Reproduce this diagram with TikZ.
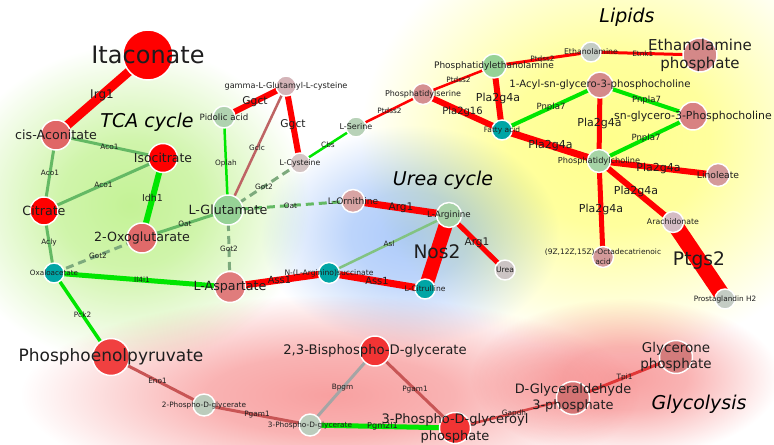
\documentclass[tikz,border=0pt]{standalone}
\usepackage{fontspec}
\setmainfont{DejaVu Sans}
\pgfdeclarelayer{glowlayer}
\pgfdeclarelayer{edgelayer}
\pgfsetlayers{glowlayer,edgelayer,main}
% node colours
\definecolor{nred}{RGB}{255,0,0}
\definecolor{ncis}{RGB}{224,102,102}
\definecolor{noxo}{RGB}{224,106,106}
\definecolor{nasp}{RGB}{224,124,124}
\definecolor{nteal}{RGB}{0,165,165}
\definecolor{nglu}{RGB}{150,210,150}
\definecolor{npid}{RGB}{176,210,176}
\definecolor{nggc}{RGB}{212,180,184}
\definecolor{ncys}{RGB}{212,196,196}
\definecolor{nser}{RGB}{184,210,184}
\definecolor{nps}{RGB}{212,144,144}
\definecolor{netn}{RGB}{196,204,196}
\definecolor{netnp}{RGB}{212,136,136}
\definecolor{nacyl}{RGB}{212,138,138}
\definecolor{ngpc}{RGB}{216,130,130}
\definecolor{npc}{RGB}{166,212,166}
\definecolor{nlin}{RGB}{212,154,154}
\definecolor{narach}{RGB}{212,188,196}
\definecolor{norn}{RGB}{216,164,164}
\definecolor{narg}{RGB}{168,210,168}
\definecolor{nurea}{RGB}{204,196,196}
\definecolor{npep}{RGB}{240,64,64}
\definecolor{npg}{RGB}{188,204,188}
\definecolor{nbpg}{RGB}{242,52,52}
\definecolor{ngap}{RGB}{212,116,116}
\definecolor{ndhap}{RGB}{212,124,124}
% edge colours
\definecolor{ered}{RGB}{255,0,0}
\definecolor{egreen}{RGB}{0,230,0}
\definecolor{emid}{RGB}{100,185,100}
\definecolor{edash}{RGB}{125,170,125}
\definecolor{egcl}{RGB}{190,100,100}
\definecolor{easl}{RGB}{130,195,130}
\definecolor{eglyc}{RGB}{200,85,85}
\definecolor{egrey}{RGB}{165,165,165}
\definecolor{egap}{RGB}{215,70,70}
\definecolor{etpi}{RGB}{225,55,55}
% glow colours
\definecolor{gtca}{RGB}{196,242,150}
\definecolor{gurea}{RGB}{172,202,250}
\definecolor{glip}{RGB}{255,255,140}
\definecolor{ggly}{RGB}{248,160,160}
\definecolor{txt}{RGB}{30,30,30}
\pgfdeclareradialshading{tcaglow}{\pgfpointorigin}{color(0bp)=(gtca); color(10bp)=(gtca!80!white); color(25bp)=(white); color(50bp)=(white)}
\pgfdeclareradialshading{lipglow}{\pgfpointorigin}{color(0bp)=(glip); color(10bp)=(glip!85!white); color(25bp)=(white); color(50bp)=(white)}
\pgfdeclareradialshading{ureaglow}{\pgfpointorigin}{color(0bp)=(gurea); color(10bp)=(gurea!80!white); color(25bp)=(white); color(50bp)=(white)}
\pgfdeclareradialshading{glyglow}{\pgfpointorigin}{color(0bp)=(ggly); color(10bp)=(ggly!80!white); color(25bp)=(white); color(50bp)=(white)}
\begin{document}
\begin{tikzpicture}[x=0.75pt,y=-0.75pt,
  met/.style 2 args={circle, draw=white, line width=1.1pt, fill=#1, minimum size=#2*1.5pt, inner sep=0pt},
  nl/.style={font=\fontsize{#1}{#1}\selectfont, text=txt, inner sep=0pt},
  nltwo/.style 2 args={font=\fontsize{#1}{#2}\selectfont, text=txt, inner sep=0pt, align=center},
  el/.style={font=\fontsize{#1}{#1}\selectfont, text=txt, inner sep=0pt},
  lw/.style={line width=#1*0.75pt},
  dsh/.style={dash pattern=on 6pt off 3.75pt},
  glowbox/.style={blend mode=multiply},
  grp/.style={font=\fontsize{14.25}{14.25}\selectfont\itshape, text=black, inner sep=0pt}]
\useasboundingbox (0,0) rectangle (774,445);

% ---------- background glows ----------
\begin{pgfonlayer}{glowlayer}
\fill[white] (0,0) rectangle (774,445);
\begin{scope}
\clip (0,0) rectangle (774,445);
\shade[shading=lipglow, glowbox] (610,140) ellipse (250 and 215);
\shade[shading=tcaglow, glowbox] (130,205) ellipse (180 and 160);
\shade[shading=ureaglow, glowbox] (410,235) ellipse (150 and 110);
\shade[shading=glyglow, glowbox] (330,395) ellipse (310 and 100);
\shade[shading=glyglow, glowbox] (625,378) ellipse (155 and 80);
\end{scope}
\end{pgfonlayer}

% ---------- nodes ----------
\node[met={nred}{25}, label={[nl=18]center:Itaconate}] (itac) at (148,55) {};
\node[met={ncis}{15}, label={[nl=9.5]center:cis-Aconitate}] (cisacon) at (56,135) {};
\node[met={nred}{14.5}, label={[nl=9.3]center:Isocitrate}] (isocit) at (163,158) {};
\node[met={nred}{14}, label={[nl=9.5]center:Citrate}] (citrate) at (44,211) {};
\node[met={noxo}{15}, label={[nl=9.5]center:2-Oxoglutarate}] (oxoglu) at (142,238) {};
\node[met={nteal}{10}, label={[nl=5.4]center:Oxaloacetate}] (oxaloac) at (54,273) {};
\node[met={nglu}{15}, label={[nl=9.5]center:L-Glutamate}] (glu) at (228,210) {};
\node[met={nasp}{15.5}, label={[nl=9.5]center:L-Aspartate}] (asp) at (230,287) {};
\node[met={npid}{11}, label={[nl=6.5]center:Pidolic acid}] (pidolic) at (224,117) {};
\node[met={nggc}{10}, label={[nl=6.1]center:gamma-L-Glutamyl-L-cysteine}] (gglucys) at (286,86) {};
\node[met={ncys}{10}, label={[nl=5.85]center:L-Cysteine}] (cys) at (300,163) {};
\node[met={nser}{10}, label={[nl=6]center:L-Serine}] (ser) at (356,127) {};
\node[met={nps}{10.5}, label={[nl=6]center:Phosphatidylserine}] (ps) at (423,94) {};
\node[met={nglu}{12}, label={[nl=6.75]center:Phosphatidylethanolamine}] (pe) at (494,66) {};
\node[met={netn}{10}, label={[nl=5.85]center:Ethanolamine}] (etn) at (591,52) {};
\node[met={netnp}{17}, label={[nltwo={11.25}{13.5}]center:{Ethanolamine\\phosphate}}] (etnp) at (700,55) {};
\node[met={nacyl}{13}, label={[nl=7.6]center:1-Acyl-sn-glycero-3-phosphocholine}] (acylgpc) at (600,85) {};
\node[met={ngpc}{14}, label={[nl=8.2]center:sn-glycero-3-Phosphocholine}] (gpc) at (693,116) {};
\node[met={nteal}{10}, label={[nl=5.6]center:Fatty acid}] (fa) at (502,130) {};
\node[met={npc}{11.5}, label={[nl=6.15]center:Phosphatidylcholine}] (pc) at (599,161) {};
\node[met={nlin}{11.5}, label={[nl=6.9]center:Linoleate}] (linol) at (718,175) {};
\node[met={narach}{10.5}, label={[nl=5.85]center:Arachidonate}] (arach) at (673,222) {};
\node[met={nlin}{10.5}, label={[nltwo={5.6}{7.5}]center:{(9Z,12Z,15Z)-Octadecatrienoic\\acid}}] (ala) at (603,257) {};
\node[met={netn}{10}, label={[nl=5.5]center:Prostaglandin H2}] (pgh2) at (725,299) {};
\node[met={norn}{11.5}, label={[nl=6.75]center:L-Ornithine}] (orn) at (353,201) {};
\node[met={narg}{12.5}, label={[nl=6.5]center:L-Arginine}] (arg) at (449,215) {};
\node[met={nurea}{10}, label={[nl=5.7]center:Urea}] (urea) at (505,270) {};
\node[met={nteal}{10.5}, label={[nl=5.7]center:N-(L-Arginino)succinate}] (argsuc) at (329,273) {};
\node[met={nteal}{10}, label={[nl=5.7]center:L-Citrulline}] (citr) at (425,289) {};
\node[met={npep}{18.5}, label={[nl=12.75]center:Phosphoenolpyruvate}] (pep) at (111,357) {};
\node[met={npg}{11}, label={[nl=5.5]center:2-Phospho-D-glycerate}] (pgtwo) at (204,405) {};
\node[met={nbpg}{15}, label={[nl=9.9]center:2,3-Bisphospho-D-glycerate}] (bpg) at (375,351) {};
\node[met={npg}{11}, label={[nl=5.5]center:3-Phospho-D-glycerate}] (pgthree) at (310,425) {};
\node[met={nbpg}{15.5}, label={[nltwo={9.75}{12.75}]center:{3-Phospho-D-glyceroyl\\phosphate}}] (bpgot) at (455,428) {};
\node[met={ngap}{16.5}, label={[nltwo={9.7}{12}]center:{D-Glyceraldehyde\\3-phosphate}}] (gap) at (573,398) {};
\node[met={ndhap}{16.5}, label={[nltwo={10.1}{12}]center:{Glycerone\\phosphate}}] (dhap) at (676,357) {};

% ---------- group titles ----------
\node[grp] (ttca) at (147,122) {TCA cycle};
\node[grp] (turea) at (443,180) {Urea cycle};
\node[grp] (tlip) at (627,17) {Lipids};
\node[grp] (tgly) at (699,404) {Glycolysis};

% ---------- edges ----------
\begin{pgfonlayer}{edgelayer}
% TCA
\draw[ered, lw=9] (cisacon.center) -- node[el=9] (l1) {Irg1} (itac.center);
\draw[emid, lw=3] (cisacon.center) -- node[el=5.5] (l2) {Aco1} (isocit.center);
\draw[emid, lw=3] (cisacon.center) -- node[el=5.5] (l3) {Aco1} (citrate.center);
\draw[emid, lw=3] (citrate.center) -- node[el=5.5] (l4) {Aco1} (isocit.center);
\draw[egreen, lw=6] (isocit.center) -- node[el=7.1] (l5) {Idh1} (oxoglu.center);
\draw[emid, lw=3] (citrate.center) -- node[el=5.5] (l6) {Acly} (oxaloac.center);
\draw[edash, lw=3, dsh] (oxaloac.center) -- node[el=5.5] (l7) {Got2} (oxoglu.center);
\draw[emid, lw=3] (oxoglu.center) -- node[el=5.5] (l8) {Oat} (glu.center);
\draw[egreen, lw=5] (oxaloac.center) -- node[el=5.5] (l9) {Il4i1} (asp.center);
\draw[egreen, lw=3.5] (oxaloac.center) -- node[el=5.5] (l10) {Pck2} (pep.center);
% glutathione / amino acids
\draw[egreen, lw=2.5] (pidolic.center) -- node[el=5.5] (l11) {Oplah} (glu.center);
\draw[ered, lw=6] (pidolic.center) -- node[el=8] (l12) {Ggct} (gglucys.center);
\draw[ered, lw=6] (gglucys.center) -- node[el=8] (l13) {Ggct} (cys.center);
\draw[egcl, lw=2.5] (gglucys.center) -- node[el=5.5] (l14) {Gclc} (glu.center);
\draw[edash, lw=3, dsh] (cys.center) -- node[el=5.5] (l15) {Got2} (glu.center);
\draw[egreen, lw=2.5] (cys.center) -- node[el=5.5] (l16) {Cbs} (ser.center);
% lipids
\draw[ered, lw=2.5] (ser.center) -- node[el=5.5] (l17) {Ptdss2} (ps.center);
\draw[ered, lw=2.5] (ps.center) -- node[el=5.5] (l18) {Ptdss2} (pe.center);
\draw[ered, lw=3] (pe.center) -- node[el=5.5] (l19) {Ptdss2} (etn.center);
\draw[ered, lw=3] (etn.center) -- node[el=5.5, xshift=-2pt] (l20) {Etnk1} (etnp.center);
\draw[ered, lw=6] (pe.center) -- node[el=8.25] (l21) {Pla2g4a} (fa.center);
\draw[ered, lw=6] (ps.center) -- node[el=7.5] (l22) {Pla2g16} (fa.center);
\draw[egreen, lw=4] (fa.center) -- node[el=6.4] (l23) {Pnpla7} (acylgpc.center);
\draw[ered, lw=7] (fa.center) -- node[el=8.25] (l24) {Pla2g4a} (pc.center);
\draw[ered, lw=5] (acylgpc.center) -- node[el=8.25] (l25) {Pla2g4a} (pc.center);
\draw[egreen, lw=4] (acylgpc.center) -- node[el=6.4] (l26) {Pnpla7} (gpc.center);
\draw[egreen, lw=4] (pc.center) -- node[el=6.4] (l27) {Pnpla7} (gpc.center);
\draw[ered, lw=6] (pc.center) -- node[el=8.25] (l28) {Pla2g4a} (linol.center);
\draw[ered, lw=6] (pc.center) -- node[el=8.25] (l29) {Pla2g4a} (arach.center);
\draw[ered, lw=5] (pc.center) -- node[el=8.25] (l30) {Pla2g4a} (ala.center);
\draw[ered, lw=16] (arach.center) -- node[el=14] (l31) {Ptgs2} (pgh2.center);
% urea cycle
\draw[emid, lw=3, dsh] (glu.center) -- node[el=5.5] (l32) {Oat} (orn.center);
\draw[edash, lw=3, dsh] (glu.center) -- node[el=5.5] (l33) {Got2} (asp.center);
\draw[ered, lw=7] (orn.center) -- node[el=7.9] (l34) {Arg1} (arg.center);
\draw[ered, lw=5] (arg.center) -- node[el=7.9] (l35) {Arg1} (urea.center);
\draw[ered, lw=14] (arg.center) -- node[el=14] (l36) {Nos2} (citr.center);
\draw[easl, lw=2.5] (arg.center) -- node[el=5.5] (l37) {Asl} (argsuc.center);
\draw[ered, lw=7] (asp.center) -- node[el=7.35] (l38) {Ass1} (argsuc.center);
\draw[ered, lw=7] (argsuc.center) -- node[el=7.35] (l39) {Ass1} (citr.center);
% glycolysis
\draw[eglyc, lw=3] (pep.center) -- node[el=5.5] (l40) {Eno1} (pgtwo.center);
\draw[eglyc, lw=3] (pgtwo.center) -- node[el=5.5] (l41) {Pgam1} (pgthree.center);
\draw[egrey, lw=3] (pgthree.center) -- node[el=5.5] (l42) {Bpgm} (bpg.center);
\draw[eglyc, lw=3] (bpg.center) -- node[el=5.5] (l43) {Pgam1} (bpgot.center);
\draw[egreen, lw=5] (pgthree.center) -- node[el=6.1] (l44) {Pgm2l1} (bpgot.center);
\draw[egap, lw=2.5] (bpgot.center) -- node[el=5.5] (l45) {Gapdh} (gap.center);
\draw[etpi, lw=3] (gap.center) -- node[el=5.5] (l46) {Tpi1} (dhap.center);
\end{pgfonlayer}
\end{tikzpicture}
\end{document}
